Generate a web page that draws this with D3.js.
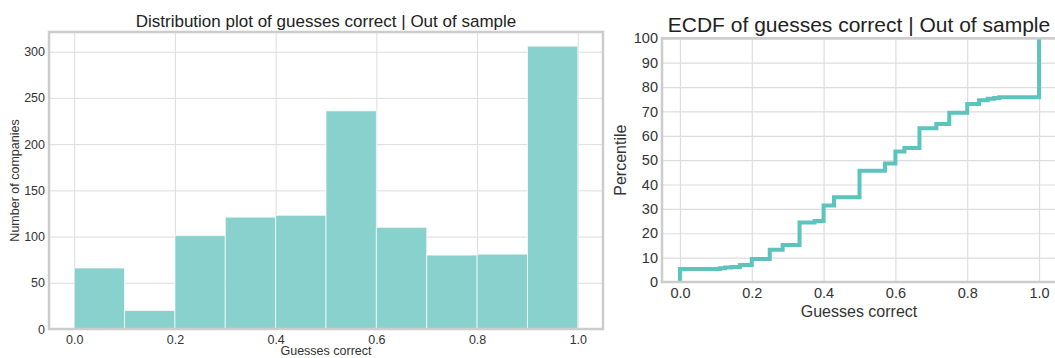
<!DOCTYPE html>
<html>
<head>
<meta charset="utf-8">
<script src="https://cdn.jsdelivr.net/npm/d3@7"></script>
<style>
  html, body { margin: 0; padding: 0; background: #fff; }
  svg { display: block; font-family: "Liberation Sans", Arial, sans-serif; }
</style>
</head>
<body>
<svg id="chart" width="1055" height="358"></svg>
<script>
// ---------- data ----------
const binStarts = [0.0, 0.1, 0.2, 0.3, 0.4, 0.5, 0.6, 0.7, 0.8, 0.9];
const binWidth = 0.1;
const binCounts = [66, 20, 101, 121, 123, 236, 110, 80, 81, 306];

const histXTicks = [0.0, 0.2, 0.4, 0.6, 0.8, 1.0];
const histYTicks = [0, 50, 100, 150, 200, 250, 300];

const ecdfX = [0.0, 0.111, 0.125, 0.143, 0.167, 0.2, 0.25, 0.286, 0.333, 0.375, 0.4, 0.429, 0.5, 0.571, 0.6, 0.625, 0.667, 0.714, 0.75, 0.8, 0.833, 0.857, 0.875, 0.889, 1.0];
const ecdfY = [5.3, 5.6, 5.9, 6.2, 7.0, 9.4, 13.2, 15.2, 24.4, 25.0, 31.4, 34.8, 45.6, 48.6, 53.6, 55.0, 63.1, 64.8, 69.4, 73.0, 74.6, 75.2, 75.5, 75.8, 100];

const ecdfXTicks = [0.0, 0.2, 0.4, 0.6, 0.8, 1.0];
const ecdfYTicks = [0, 10, 20, 30, 40, 50, 60, 70, 80, 90, 100];

// ---------- style ----------
const gridColor = "#dddddd";
const spineColor = "#cccccc";
const textColor = "#333333";
const barFill = "#88d1cc";
const lineColor = "#5cc4bc";

const svg = d3.select("#chart");

// ================= LEFT: histogram =================
const L = { left: 49, right: 603, top: 32, bottom: 329 };
const xL = d3.scaleLinear().domain([-0.05, 1.05]).range([L.left, L.right]);
const yL = d3.scaleLinear().domain([0, 321.3]).range([L.bottom, L.top]);

const gL = svg.append("g");

gL.append("g")
  .attr("transform", `translate(0,${L.bottom})`)
  .call(d3.axisBottom(xL).tickValues(histXTicks).tickSize(-(L.bottom - L.top)).tickFormat(""))
  .call(g => g.select(".domain").remove())
  .call(g => g.selectAll("line").attr("stroke", gridColor).attr("stroke-width", 1));
gL.append("g")
  .attr("transform", `translate(${L.left},0)`)
  .call(d3.axisLeft(yL).tickValues(histYTicks).tickSize(-(L.right - L.left)).tickFormat(""))
  .call(g => g.select(".domain").remove())
  .call(g => g.selectAll("line").attr("stroke", gridColor).attr("stroke-width", 1));

gL.append("g").selectAll("rect")
  .data(binStarts.map((s, i) => ({ x0: s, x1: s + binWidth, c: binCounts[i] })))
  .join("rect")
  .attr("x", d => xL(d.x0))
  .attr("width", d => xL(d.x1) - xL(d.x0))
  .attr("y", d => yL(d.c))
  .attr("height", d => yL(0) - yL(d.c))
  .attr("fill", barFill)
  .attr("stroke", "#ffffff")
  .attr("stroke-opacity", 0.7)
  .attr("stroke-width", 1);

gL.append("rect")
  .attr("x", L.left).attr("y", L.top)
  .attr("width", L.right - L.left).attr("height", L.bottom - L.top)
  .attr("fill", "none").attr("stroke", spineColor).attr("stroke-width", 2.5);

gL.append("g")
  .attr("transform", `translate(0,${L.bottom})`)
  .call(d3.axisBottom(xL).tickValues(histXTicks).tickSize(0).tickPadding(6).tickFormat(d3.format(".1f")))
  .call(g => g.select(".domain").remove())
  .call(g => g.selectAll("text").attr("fill", textColor).attr("font-size", 12.5).attr("font-family", "Liberation Sans, Arial, sans-serif"));
gL.append("g")
  .attr("transform", `translate(${L.left},0)`)
  .call(d3.axisLeft(yL).tickValues(histYTicks).tickSize(0).tickPadding(4).tickFormat(d3.format("d")))
  .call(g => g.select(".domain").remove())
  .call(g => g.selectAll("text").attr("fill", textColor).attr("font-size", 12.5).attr("font-family", "Liberation Sans, Arial, sans-serif"));

gL.append("text")
  .attr("x", (L.left + L.right) / 2).attr("y", 27)
  .attr("text-anchor", "middle").attr("font-size", 17).attr("fill", "#222")
  .text("Distribution plot of guesses correct | Out of sample");
gL.append("text")
  .attr("x", (L.left + L.right) / 2).attr("y", 355)
  .attr("text-anchor", "middle").attr("font-size", 12.5).attr("fill", textColor)
  .text("Guesses correct");
gL.append("text")
  .attr("transform", `translate(19,${(L.top + L.bottom) / 2}) rotate(-90)`)
  .attr("text-anchor", "middle").attr("font-size", 12.5).attr("fill", textColor)
  .text("Number of companies");

// ================= RIGHT: ECDF =================
const R = { left: 662, right: 1057, top: 38.3, bottom: 282 };
const xR = d3.scaleLinear().domain([-0.05, 1.05]).range([R.left, R.right]);
const yR = d3.scaleLinear().domain([0, 100]).range([R.bottom, R.top]);

const gR = svg.append("g");

gR.append("g")
  .attr("transform", `translate(0,${R.bottom})`)
  .call(d3.axisBottom(xR).tickValues(ecdfXTicks).tickSize(-(R.bottom - R.top)).tickFormat(""))
  .call(g => g.select(".domain").remove())
  .call(g => g.selectAll("line").attr("stroke", gridColor).attr("stroke-width", 1.2));
gR.append("g")
  .attr("transform", `translate(${R.left},0)`)
  .call(d3.axisLeft(yR).tickValues(ecdfYTicks).tickSize(-(R.right - R.left)).tickFormat(""))
  .call(g => g.select(".domain").remove())
  .call(g => g.selectAll("line").attr("stroke", gridColor).attr("stroke-width", 1.2));

svg.append("defs").append("clipPath").attr("id", "clipR")
  .append("rect").attr("x", R.left).attr("y", R.top).attr("width", R.right - R.left).attr("height", R.bottom - R.top);

const ecdfPts = [[ecdfX[0], 0]].concat(ecdfX.map((x, i) => [x, ecdfY[i]]));
const line = d3.line().x(d => xR(d[0])).y(d => yR(d[1])).curve(d3.curveStepAfter);
gR.append("path")
  .attr("clip-path", "url(#clipR)")
  .attr("d", line(ecdfPts))
  .attr("fill", "none").attr("stroke", lineColor).attr("stroke-width", 4)
  .attr("stroke-linejoin", "miter");

gR.append("rect")
  .attr("x", R.left).attr("y", R.top)
  .attr("width", R.right - R.left).attr("height", R.bottom - R.top)
  .attr("fill", "none").attr("stroke", spineColor).attr("stroke-width", 2.5);

gR.append("g")
  .attr("transform", `translate(0,${R.bottom})`)
  .call(d3.axisBottom(xR).tickValues(ecdfXTicks).tickSize(0).tickPadding(6).tickFormat(d3.format(".1f")))
  .call(g => g.select(".domain").remove())
  .call(g => g.selectAll("text").attr("fill", textColor).attr("font-size", 14.5).attr("font-family", "Liberation Sans, Arial, sans-serif"));
gR.append("g")
  .attr("transform", `translate(${R.left},0)`)
  .call(d3.axisLeft(yR).tickValues(ecdfYTicks).tickSize(0).tickPadding(4).tickFormat(d3.format("d")))
  .call(g => g.select(".domain").remove())
  .call(g => g.selectAll("text").attr("fill", textColor).attr("font-size", 14.5).attr("font-family", "Liberation Sans, Arial, sans-serif"));

gR.append("text")
  .attr("x", 859).attr("y", 32)
  .attr("text-anchor", "middle").attr("font-size", 21).attr("fill", "#222")
  .text("ECDF of guesses correct | Out of sample");
gR.append("text")
  .attr("x", 859).attr("y", 317)
  .attr("text-anchor", "middle").attr("font-size", 16).attr("fill", textColor)
  .text("Guesses correct");
gR.append("text")
  .attr("transform", `translate(626,${(R.top + R.bottom) / 2}) rotate(-90)`)
  .attr("text-anchor", "middle").attr("font-size", 16).attr("fill", textColor)
  .text("Percentile");
</script>
</body>
</html>
